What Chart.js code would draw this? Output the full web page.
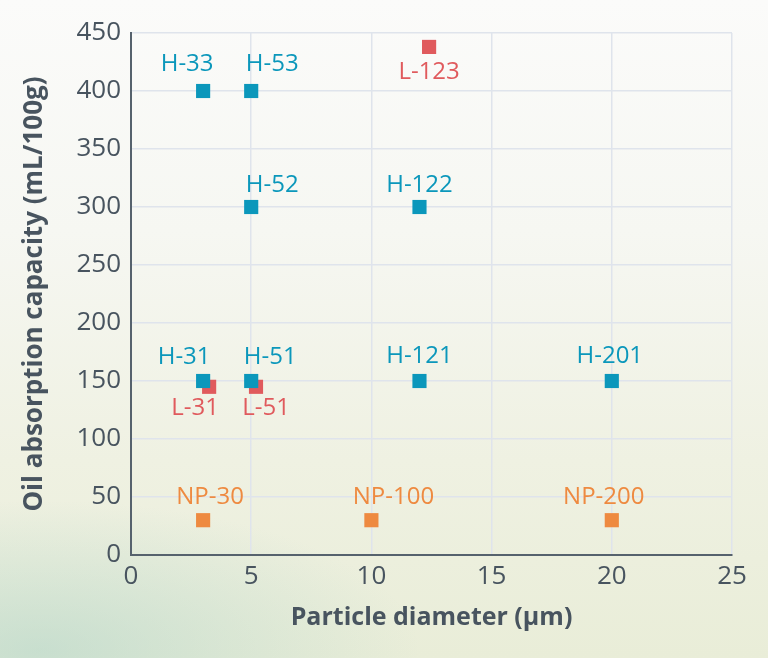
<!DOCTYPE html>
<html>
<head>
<meta charset="utf-8">
<script src="https://cdn.jsdelivr.net/npm/chart.js@4/dist/chart.umd.min.js"></script>
<style>
  html, body { margin: 0; padding: 0; }
  body {
    width: 768px; height: 658px; overflow: hidden;
    background:
      radial-gradient(ellipse 380px 150px at 40px 650px, rgba(160, 205, 195, 0.45), rgba(160, 205, 195, 0) 100%),
      linear-gradient(180deg, #fbfbfa 0%, #f6f7f2 35%, #eff1e2 70%, #e9edd8 100%);
  }
  #wrap { position: relative; width: 768px; height: 658px; }
</style>
</head>
<body>
<div id="wrap"><canvas id="oilChart"></canvas></div>
<script>
// H series (blue)
const hNames = ['H-33', 'H-53', 'H-52', 'H-122', 'H-31', 'H-51', 'H-121', 'H-201'];
const hDiameter = [3, 5, 5, 12, 3, 5, 12, 20];
const hOil = [400, 400, 300, 300, 150, 150, 150, 150];

// L series (red)
const lNames = ['L-123', 'L-31', 'L-51'];
const lDiameter = [12.4, 3.25, 5.2];
const lOil = [438, 145, 145];

// NP series (orange)
const npNames = ['NP-30', 'NP-100', 'NP-200'];
const npDiameter = [3, 10, 20];
const npOil = [30, 30, 30];

const xTicks = [0, 5, 10, 15, 20, 25];
const yTicks = [0, 50, 100, 150, 200, 250, 300, 350, 400, 450];

// label placement relative to the marker (px)
const labelShift = {
    'H-33': [-16, -27], 'H-53': [21, -27], 'H-52': [21, -22], 'H-122': [0, -22],
    'H-31': [-19, -24], 'H-51': [19, -24], 'H-121': [0, -25], 'H-201': [-2, -25],
    'L-123': [0, 25], 'L-31': [-14, 21], 'L-51': [10, 21],
    'NP-30': [7, -23], 'NP-100': [22, -23], 'NP-200': [-8, -23],
};

const BLUE = '#0b97bb';
const RED = '#e05a5d';
const ORANGE = '#ee8a40';
const TEXT = '#48545f';

const pts = (xs, ys, names) => xs.map((x, i) => ({ x: x, y: ys[i], name: names[i] }));

const pointLabels = {
    id: 'pointLabels',
    afterDatasetsDraw(chart) {
        const ctx = chart.ctx;
        ctx.save();
        ctx.font = '24px "Open Sans"';
        ctx.textAlign = 'center';
        ctx.textBaseline = 'middle';
        chart.data.datasets.forEach((ds, di) => {
            const meta = chart.getDatasetMeta(di);
            ctx.fillStyle = ds.backgroundColor;
            meta.data.forEach((el, i) => {
                const name = ds.data[i].name;
                const s = labelShift[name] || [0, -24];
                ctx.fillText(name, el.x + s[0], el.y + s[1]);
            });
        });
        ctx.restore();
    },
};

new Chart(document.getElementById('oilChart'), {
    type: 'scatter',
    data: {
        datasets: [
            {
                label: 'H',
                data: pts(hDiameter, hOil, hNames),
                backgroundColor: BLUE,
                pointStyle: 'rect',
                pointRadius: 10,
                pointHoverRadius: 10,
                borderWidth: 0,
            },
            {
                label: 'L',
                data: pts(lDiameter, lOil, lNames),
                backgroundColor: RED,
                pointStyle: 'rect',
                pointRadius: 10,
                pointHoverRadius: 10,
                borderWidth: 0,
            },
            {
                label: 'NP',
                data: pts(npDiameter, npOil, npNames),
                backgroundColor: ORANGE,
                pointStyle: 'rect',
                pointRadius: 10,
                pointHoverRadius: 10,
                borderWidth: 0,
            },
        ],
    },
    options: {
        responsive: true,
        maintainAspectRatio: false,
        animation: false,
        layout: { padding: { top: 33, right: 36, bottom: 0, left: 0 } },
        plugins: {
            legend: { display: false },
            tooltip: { enabled: false },
        },
        scales: {
            x: {
                type: 'linear',
                min: 0,
                max: 25,
                afterBuildTicks: (scale) => { scale.ticks = xTicks.map((v) => ({ value: v })); },
                afterFit: (scale) => { scale.height = 103; },
                ticks: {
                    color: TEXT,
                    font: { family: 'Open Sans', size: 26 },
                    padding: 6,
                    maxRotation: 0,
                },
                grid: { color: '#dfe4ec', lineWidth: 1.5, drawTicks: false },
                border: { color: '#56626d', width: 2 },
                title: {
                    display: true,
                    text: 'Particle diameter (µm)',
                    color: TEXT,
                    font: { family: 'Open Sans', size: 25, weight: 'bold' },
                    padding: { top: 0, bottom: 25 },
                },
            },
            y: {
                type: 'linear',
                min: 0,
                max: 450,
                afterBuildTicks: (scale) => { scale.ticks = yTicks.map((v) => ({ value: v })); },
                afterFit: (scale) => { scale.width = 131; },
                ticks: {
                    color: TEXT,
                    font: { family: 'Open Sans', size: 26 },
                    padding: 10,
                },
                grid: { color: '#dfe4ec', lineWidth: 1.5, drawTicks: false },
                border: { color: '#56626d', width: 2 },
                title: {
                    display: true,
                    text: 'Oil absorption capacity (mL/100g)',
                    color: TEXT,
                    font: { family: 'Open Sans', size: 26, weight: 'bold' },
                    padding: { top: 19, bottom: 0 },
                },
            },
        },
    },
    plugins: [pointLabels],
});
</script>
</body>
</html>
